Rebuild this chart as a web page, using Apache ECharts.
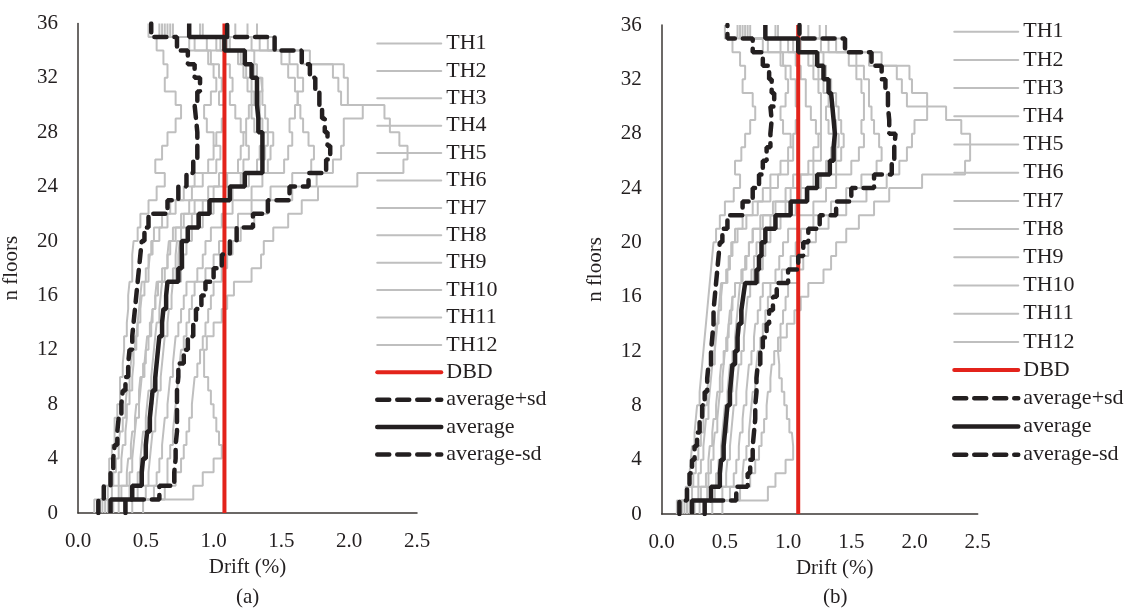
<!DOCTYPE html>
<html>
<head>
<meta charset="utf-8">
<script src="https://cdn.jsdelivr.net/npm/echarts@6/dist/echarts.min.js"></script>
<style>html,body{margin:0;padding:0;background:#ffffff;}#chart{width:1126px;height:616px;}</style>
</head>
<body>
<div id="chart"></div>
<script>
// Storey drift (%) for storeys 1..36 (bottom to top)
const xTicks = ['0.0','0.5','1.0','1.5','2.0','2.5'];
const yTicks = [0,4,8,12,16,20,24,28,32,36];
const thNames = ['TH1','TH2','TH3','TH4','TH5','TH6','TH7','TH8','TH9','TH10','TH11','TH12'];
const DBD = 1.08;

// ---- panel (a) ----
const TH1a = [0.12,0.20,0.23,0.23,0.25,0.27,0.27,0.29,0.31,0.31,0.33,0.34,0.34,0.36,0.37,0.37,0.38,0.40,0.40,0.41,0.44,0.46,0.52,0.58,0.64,0.57,0.62,0.66,0.72,0.76,0.72,0.64,0.66,0.63,0.58,0.52];
const TH2a = [0.16,0.25,0.30,0.32,0.33,0.35,0.36,0.36,0.38,0.40,0.41,0.41,0.43,0.44,0.46,0.47,0.49,0.52,0.53,0.55,0.60,0.66,0.72,0.84,0.92,1.02,1.05,1.00,0.95,0.93,0.98,1.02,1.00,0.96,0.82,0.60];
const TH3a = [0.20,0.32,0.38,0.40,0.41,0.42,0.43,0.45,0.46,0.47,0.49,0.50,0.52,0.54,0.55,0.57,0.58,0.62,0.66,0.68,0.72,0.78,0.86,1.00,1.10,1.22,1.26,1.24,1.20,1.16,1.12,1.14,1.12,1.08,0.95,0.64];
const TH4a = [0.22,0.38,0.44,0.46,0.47,0.48,0.50,0.51,0.52,0.54,0.55,0.56,0.57,0.58,0.60,0.61,0.62,0.70,0.72,0.73,0.76,0.84,0.92,1.08,1.20,1.32,1.34,1.36,1.30,1.28,1.34,1.36,1.32,1.30,1.12,0.66];
const TH5a = [0.48,0.85,0.92,1.00,1.06,1.04,1.02,1.00,0.98,0.96,0.93,0.93,0.95,1.00,1.06,1.10,1.15,1.28,1.35,1.37,1.44,1.55,1.65,1.77,2.06,2.40,2.43,2.37,2.30,2.26,1.99,1.99,1.96,1.71,1.45,1.32];
const TH6a = [0.26,0.44,0.52,0.53,0.54,0.55,0.57,0.58,0.59,0.61,0.62,0.63,0.64,0.66,0.67,0.69,0.70,0.76,0.78,0.80,0.84,0.92,1.00,1.14,1.26,1.40,1.42,1.44,1.40,1.38,1.36,1.35,1.30,1.24,1.10,0.90];
const TH7a = [0.30,0.50,0.58,0.60,0.62,0.63,0.64,0.66,0.67,0.68,0.70,0.71,0.72,0.74,0.76,0.78,0.80,0.88,0.92,0.94,0.98,1.06,1.14,1.28,1.36,1.52,1.55,1.58,1.56,1.60,1.62,1.60,1.55,1.50,1.28,0.92];
const TH8a = [0.18,0.30,0.36,0.37,0.39,0.40,0.42,0.43,0.45,0.46,0.48,0.50,0.51,0.53,0.55,0.57,0.59,0.64,0.66,0.67,0.70,0.76,0.82,0.96,1.04,1.18,1.20,1.22,1.24,1.26,1.28,1.25,1.22,1.18,1.02,0.68];
const TH9a = [0.34,0.56,0.66,0.66,0.68,0.70,0.71,0.72,0.73,0.74,0.75,0.76,0.78,0.80,0.82,0.84,0.86,0.94,1.00,1.04,1.08,1.18,1.28,1.42,1.58,1.72,1.74,1.70,1.66,1.64,1.62,1.66,1.62,1.56,1.34,1.16];
const TH10a = [0.14,0.22,0.26,0.28,0.30,0.31,0.33,0.35,0.36,0.38,0.39,0.40,0.42,0.44,0.45,0.46,0.47,0.50,0.52,0.54,0.56,0.62,0.68,0.78,0.86,0.96,1.00,1.02,1.06,1.08,1.04,1.06,1.04,0.98,0.86,0.62];
const TH11a = [0.40,0.64,0.72,0.76,0.78,0.80,0.82,0.84,0.85,0.86,0.88,0.90,0.92,0.94,0.96,0.98,1.00,1.06,1.10,1.14,1.20,1.30,1.40,1.58,1.76,1.88,1.94,1.96,1.96,2.10,1.94,1.92,1.88,1.66,1.40,1.25];
const TH12a = [0.24,0.40,0.46,0.48,0.50,0.51,0.52,0.53,0.55,0.56,0.58,0.59,0.60,0.62,0.63,0.65,0.66,0.72,0.74,0.75,0.80,0.88,0.96,1.12,1.22,1.36,1.38,1.40,1.36,1.34,1.30,1.28,1.24,1.20,1.05,0.70];
const avgA = [0.24,0.40,0.47,0.48,0.50,0.51,0.53,0.54,0.55,0.57,0.58,0.59,0.60,0.62,0.63,0.65,0.66,0.74,0.765,0.765,0.81,0.89,0.97,1.12,1.23,1.36,1.36,1.36,1.33,1.32,1.32,1.32,1.28,1.23,1.08,0.82];
const upA  = [0.35,0.60,0.71,0.72,0.72,0.73,0.73,0.73,0.73,0.74,0.74,0.78,0.81,0.85,0.87,0.91,0.94,1.00,1.06,1.12,1.17,1.29,1.40,1.56,1.70,1.83,1.86,1.84,1.82,1.80,1.78,1.75,1.71,1.65,1.45,1.10];
const loA  = [0.15,0.19,0.24,0.26,0.27,0.29,0.30,0.32,0.33,0.35,0.37,0.38,0.40,0.41,0.42,0.43,0.44,0.45,0.46,0.47,0.49,0.52,0.66,0.74,0.80,0.85,0.88,0.88,0.87,0.86,0.88,0.90,0.86,0.81,0.73,0.54];

// ---- panel (b) ----
const TH1b = [0.12,0.19,0.22,0.23,0.24,0.26,0.27,0.28,0.30,0.31,0.32,0.33,0.34,0.35,0.36,0.37,0.38,0.39,0.40,0.41,0.43,0.46,0.50,0.57,0.62,0.58,0.63,0.66,0.70,0.74,0.72,0.64,0.66,0.62,0.56,0.50];
const TH2b = [0.16,0.24,0.29,0.31,0.33,0.34,0.35,0.37,0.38,0.39,0.40,0.42,0.43,0.44,0.45,0.47,0.48,0.52,0.54,0.56,0.60,0.67,0.76,0.86,0.92,1.00,1.04,1.02,0.96,0.94,0.98,1.00,0.98,0.94,0.80,0.60];
const TH3b = [0.20,0.31,0.37,0.39,0.41,0.42,0.44,0.45,0.46,0.48,0.49,0.50,0.52,0.53,0.55,0.56,0.58,0.63,0.66,0.69,0.72,0.80,0.90,1.02,1.10,1.20,1.26,1.26,1.22,1.18,1.14,1.14,1.10,1.06,0.94,0.64];
const TH4b = [0.22,0.36,0.43,0.45,0.47,0.48,0.49,0.50,0.52,0.53,0.54,0.56,0.58,0.59,0.60,0.61,0.62,0.71,0.73,0.75,0.78,0.86,0.98,1.10,1.20,1.30,1.34,1.38,1.32,1.30,1.34,1.34,1.30,1.28,1.10,0.66];
const TH5b = [0.48,0.84,0.90,0.98,1.04,1.03,1.01,0.99,0.97,0.95,0.93,0.92,0.94,0.99,1.05,1.10,1.16,1.28,1.34,1.38,1.46,1.56,1.68,1.80,2.06,2.40,2.44,2.44,2.37,2.25,2.10,1.98,1.96,1.74,1.46,1.30];
const TH6b = [0.26,0.42,0.51,0.52,0.54,0.55,0.56,0.57,0.59,0.60,0.61,0.63,0.65,0.66,0.67,0.68,0.70,0.77,0.80,0.82,0.86,0.94,1.06,1.16,1.26,1.38,1.42,1.44,1.42,1.40,1.38,1.34,1.30,1.24,1.08,0.90];
const TH7b = [0.30,0.48,0.57,0.59,0.61,0.62,0.64,0.65,0.67,0.68,0.69,0.71,0.73,0.74,0.76,0.78,0.80,0.90,0.93,0.96,1.00,1.08,1.20,1.30,1.38,1.50,1.56,1.60,1.58,1.60,1.60,1.58,1.54,1.48,1.26,0.92];
const TH8b = [0.18,0.29,0.35,0.37,0.38,0.40,0.41,0.43,0.44,0.46,0.47,0.49,0.51,0.53,0.54,0.56,0.58,0.64,0.67,0.69,0.72,0.78,0.88,0.98,1.04,1.16,1.20,1.24,1.26,1.26,1.26,1.24,1.20,1.16,1.00,0.68];
const TH9b = [0.34,0.54,0.64,0.65,0.67,0.69,0.70,0.71,0.72,0.74,0.75,0.76,0.78,0.80,0.82,0.84,0.86,0.95,1.02,1.06,1.10,1.20,1.34,1.46,1.58,1.70,1.74,1.72,1.68,1.66,1.64,1.64,1.60,1.54,1.32,1.16];
const TH10b = [0.14,0.21,0.25,0.27,0.29,0.31,0.33,0.34,0.36,0.37,0.38,0.40,0.42,0.43,0.45,0.46,0.47,0.51,0.53,0.55,0.58,0.64,0.72,0.80,0.86,0.94,1.00,1.04,1.06,1.08,1.06,1.06,1.02,0.96,0.84,0.62];
const TH11b = [0.40,0.62,0.70,0.74,0.77,0.79,0.81,0.83,0.84,0.86,0.87,0.89,0.92,0.94,0.96,0.98,1.00,1.08,1.12,1.16,1.22,1.32,1.46,1.62,1.78,1.88,1.94,1.98,2.00,2.10,1.94,1.90,1.86,1.64,1.38,1.25];
const TH12b = [0.24,0.38,0.45,0.47,0.49,0.50,0.52,0.53,0.54,0.56,0.57,0.59,0.61,0.62,0.64,0.65,0.66,0.73,0.76,0.78,0.82,0.90,1.02,1.14,1.22,1.34,1.38,1.40,1.38,1.36,1.32,1.28,1.24,1.20,1.04,0.70];
const avgB = [0.24,0.39,0.46,0.47,0.49,0.50,0.51,0.52,0.54,0.55,0.56,0.58,0.60,0.61,0.63,0.645,0.66,0.75,0.77,0.79,0.82,0.90,1.02,1.15,1.23,1.33,1.36,1.37,1.36,1.35,1.34,1.32,1.28,1.23,1.08,0.82];
const upB  = [0.34,0.59,0.68,0.70,0.72,0.73,0.74,0.74,0.75,0.75,0.76,0.78,0.80,0.83,0.85,0.88,0.91,1.00,1.08,1.12,1.16,1.25,1.38,1.50,1.68,1.82,1.84,1.85,1.80,1.79,1.79,1.77,1.74,1.66,1.45,1.09];
const loB  = [0.14,0.20,0.22,0.24,0.26,0.28,0.30,0.32,0.34,0.36,0.37,0.39,0.40,0.41,0.41,0.42,0.43,0.44,0.45,0.46,0.48,0.52,0.64,0.72,0.77,0.80,0.83,0.86,0.87,0.86,0.89,0.87,0.85,0.80,0.72,0.52];

const thA = [TH1a,TH2a,TH3a,TH4a,TH5a,TH6a,TH7a,TH8a,TH9a,TH10a,TH11a,TH12a];
const thB = [TH1b,TH2b,TH3b,TH4b,TH5b,TH6b,TH7b,TH8b,TH9b,TH10b,TH11b,TH12b];

// Each storey's drift is a vertical segment from floor i to floor i+1
function storeyPoints(vals){
  const pts = [];
  vals.forEach((v,i)=>{ pts.push([v,i]); pts.push([v,i+1]); });
  return pts;
}

const FONT = 'Liberation Serif';
const TXT = '#231f20';
const GRAY = '#bfbfbf';
const BLACK = '#231f20';
const RED = '#e3231b';

function panelSeries(idx, th, up, avg, lo){
  const s = [];
  th.forEach((vals,k)=>{
    s.push({name: thNames[k], type:'line', xAxisIndex: idx, yAxisIndex: idx,
      data: storeyPoints(vals), symbol:'none', showSymbol:false, silent:true,
      lineStyle:{color: GRAY, width: 2}, itemStyle:{color: GRAY}});
  });
  s.push({name:'DBD', type:'line', xAxisIndex: idx, yAxisIndex: idx,
    data: [[DBD,0],[DBD,36]], symbol:'none', showSymbol:false, silent:true,
    lineStyle:{color: RED, width: 4}, itemStyle:{color: RED}});
  s.push({name:'average+sd', type:'line', xAxisIndex: idx, yAxisIndex: idx,
    data: storeyPoints(up), symbol:'none', showSymbol:false, silent:true,
    lineStyle:{color: BLACK, width: 4.5, type:[12,8], cap:'round'}, itemStyle:{color: BLACK}});
  s.push({name:'average', type:'line', xAxisIndex: idx, yAxisIndex: idx,
    data: storeyPoints(avg), symbol:'none', showSymbol:false, silent:true,
    lineStyle:{color: BLACK, width: 4.5}, itemStyle:{color: BLACK}});
  s.push({name:'average-sd', type:'line', xAxisIndex: idx, yAxisIndex: idx,
    data: storeyPoints(lo), symbol:'none', showSymbol:false, silent:true,
    lineStyle:{color: BLACK, width: 4.5, type:[12,8], cap:'round'}, itemStyle:{color: BLACK}});
  return s;
}

function xAx(idx, namePad){
  return {gridIndex: idx, type:'value', min:0, max:2.5, interval:0.5,
    name:'Drift (%)', nameLocation:'middle', nameGap:40,
    nameTextStyle:{fontFamily:FONT, fontSize:21, color:TXT, padding:namePad},
    axisLine:{show:true, onZero:false, lineStyle:{color:'#3b3734', width:1.5}},
    axisTick:{show:false}, splitLine:{show:false},
    axisLabel:{fontFamily:FONT, fontSize:21, color:TXT, margin:18,
      formatter:(v)=>xTicks[Math.round(v/0.5)]}};
}
function yAx(idx){
  return {gridIndex: idx, type:'value', min:0, max:36, interval:4,
    name:'n floors', nameLocation:'middle', nameGap:56, nameRotate:90,
    nameTextStyle:{fontFamily:FONT, fontSize:21, color:TXT},
    axisLine:{show:true, onZero:false, lineStyle:{color:'#3b3734', width:1.5}},
    axisTick:{show:false}, splitLine:{show:false},
    axisLabel:{fontFamily:FONT, fontSize:21, color:TXT, margin:20,
      formatter:(v)=> yTicks.indexOf(v) >= 0 ? String(v) : ''}};
}

const legendNames = thNames.concat(['DBD','average+sd','average','average-sd']);
function leg(left, top, gap){
  return {orient:'vertical', left:left, top:top, padding:0, itemWidth:64, itemHeight:14, itemGap:gap,
    selectedMode:false, data: legendNames,
    itemStyle:{opacity:0},
    lineStyle:{width:'inherit', type:'inherit', cap:'round'},
    textStyle:{fontFamily:FONT, fontSize:22, lineHeight:22, color:TXT}};
}

const chart = echarts.init(document.getElementById('chart'), null, {renderer:'canvas'});
chart.setOption({
  backgroundColor:'#ffffff',
  animation:false,
  grid:[
    {left:78, top:23.4, width:339, height:489.6},
    {left:661.7, top:25, width:316, height:489}
  ],
  xAxis:[xAx(0,[0,0,0,0]), xAx(1,[0,0,0,30])],
  yAxis:[yAx(0), yAx(1)],
  legend:[leg(375, 32.5, 5.4), leg(952, 20.7, 6.2)],
  graphic:[
    {type:'text', left:236, top:587, style:{text:'(a)', font:'21px "Liberation Serif"', fill:TXT}},
    {type:'text', left:823, top:587, style:{text:'(b)', font:'21px "Liberation Serif"', fill:TXT}}
  ],
  series: panelSeries(0, thA, upA, avgA, loA).concat(panelSeries(1, thB, upB, avgB, loB))
});
</script>
</body>
</html>
